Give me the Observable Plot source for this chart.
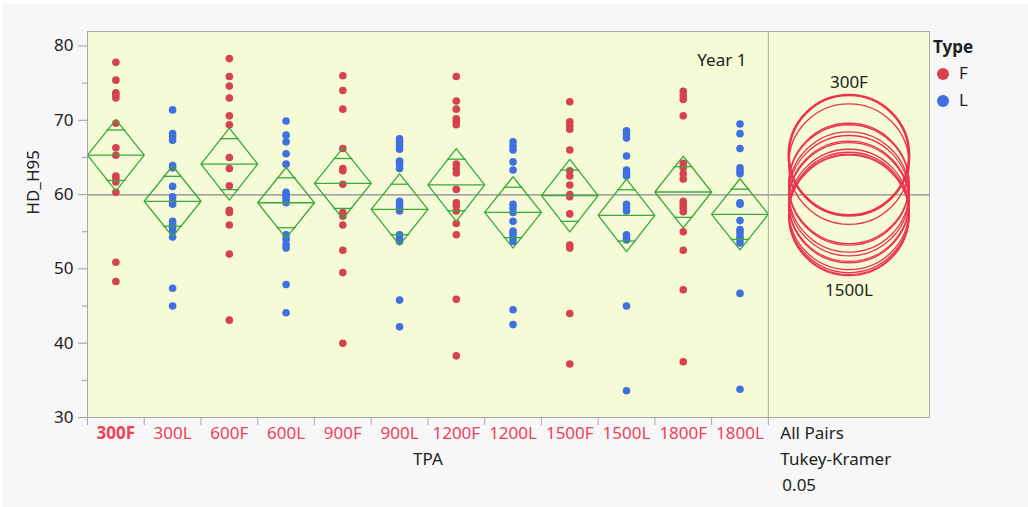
<!DOCTYPE html>
<html>
<head>
<meta charset="utf-8">
<script src="https://cdn.jsdelivr.net/npm/d3@7"></script>
<script src="https://cdn.jsdelivr.net/npm/@observablehq/plot@0.6"></script>
<style>
  body { margin: 0; background: #ffffff; font-family: "Noto Sans", sans-serif; }
  #panel { position: absolute; left: 2px; top: 4px; width: 1026px; height: 503px; background: #f7f7f7; }
  #chart { position: absolute; left: 0; top: 0; }
  #legend { position: absolute; left: 0; top: 0; color: #222; font-size: 17px; }
  #legend .title { position: absolute; left: 933px; top: 35px; font-weight: bold; white-space: nowrap; }
  #legend .item { position: absolute; left: 937px; white-space: nowrap; line-height: 20px; }
  #legend .sw { display: inline-block; width: 12px; height: 12px; border-radius: 50%; vertical-align: -1px; margin-right: 10px; }
</style>
</head>
<body>
<div id="panel"></div>
<div id="chart"></div>
<div id="legend"></div>
<script>
// TPA treatment groups (F / L type) and their HD_H95 observations
const categories = ["300F", "300L", "600F", "600L", "900F", "900L", "1200F", "1200L", "1500F", "1500L", "1800F", "1800L"];

const v300F  = [77.8, 75.4, 73.7, 73.4, 73.0, 69.6, 66.3, 65.3, 62.5, 62.1, 61.7, 60.3, 50.9, 48.3];
const v300L  = [71.4, 68.2, 67.8, 67.3, 63.9, 63.6, 61.1, 59.7, 59.1, 58.7, 56.4, 56.0, 55.5, 55.1, 54.3, 47.4, 45.0];
const v600F  = [78.3, 75.9, 74.6, 73.0, 70.6, 69.4, 65.0, 63.5, 61.2, 57.9, 57.6, 55.9, 52.0, 43.1];
const v600L  = [69.9, 68.0, 67.1, 65.5, 64.1, 60.3, 59.9, 59.6, 59.2, 58.9, 54.6, 54.0, 53.3, 52.8, 47.9, 44.1];
const v900F  = [76.0, 74.0, 71.5, 66.2, 63.5, 63.2, 61.4, 57.6, 57.1, 55.9, 52.5, 49.5, 40.0];
const v900L  = [67.5, 67.1, 66.6, 66.1, 64.5, 64.1, 63.5, 59.1, 58.7, 58.2, 57.8, 54.6, 54.1, 53.7, 45.8, 42.2];
const v1200F = [75.9, 72.6, 71.5, 70.2, 69.8, 69.4, 64.1, 63.5, 62.9, 60.7, 58.9, 58.5, 57.8, 56.1, 54.6, 45.9, 38.3];
const v1200L = [67.1, 66.5, 66.0, 64.4, 63.3, 58.7, 58.2, 57.6, 56.4, 55.1, 54.7, 54.2, 53.7, 44.5, 42.5];
const v1500F = [72.5, 69.8, 69.3, 68.8, 66.0, 63.2, 62.5, 61.3, 60.0, 59.7, 57.4, 53.2, 52.8, 44.0, 37.2];
const v1500L = [68.6, 68.1, 67.6, 65.2, 63.3, 62.8, 62.5, 58.7, 58.2, 57.8, 54.6, 54.2, 53.9, 45.0, 33.6];
const v1800F = [73.9, 73.3, 72.8, 70.6, 64.2, 63.6, 62.8, 62.1, 59.1, 58.6, 58.2, 57.7, 55.0, 52.5, 47.2, 37.5];
const v1800L = [69.5, 68.2, 66.2, 63.6, 63.2, 62.8, 58.9, 58.7, 56.5, 55.3, 54.9, 54.4, 54.0, 53.5, 46.7, 33.8];

// Group means and 95% confidence half-widths (means diamonds)
const groupMeans = [65.3, 59.1, 64.1, 58.9, 61.5, 58.0, 61.3, 57.6, 59.85, 57.2, 60.35, 57.35];
const ciHalf     = [4.8, 4.75, 4.85, 4.75, 4.75, 4.8, 4.9, 4.8, 4.88, 4.88, 4.83, 4.78];
const grandMean = 59.95;
// Tukey-Kramer comparison circle radius (HD_H95 units), alpha = 0.05
const circleRadius = 8.1;
const selectedGroup = "300F";

const yTicks = [30, 40, 50, 60, 70, 80];
const yMinorTicks = [35, 45, 55, 65, 75];

const typeColors = {F: "#d6424f", L: "#3f6fe0"};
const circleColor = "#ec3349";
const diamondColor = "#3aa83a";
const labelColor = "#f0405a";
const FS = 17;

// ---- tables built from the arrays above ----
const valueLists = [v300F, v300L, v600F, v600L, v900F, v900L, v1200F, v1200L, v1500F, v1500L, v1800F, v1800L];
const points = valueLists.flatMap((vals, i) =>
  vals.map(v => ({cat: categories[i], i, type: categories[i].slice(-1), value: v})));
const groups = categories.map((c, i) => ({cat: c, i, mean: groupMeans[i], ci: ciHalf[i]}));
const diamondPts = groups.flatMap(g => [
  {cat: g.cat, x: g.i, y: g.mean},
  {cat: g.cat, x: g.i + 0.5, y: g.mean + g.ci},
  {cat: g.cat, x: g.i + 1, y: g.mean},
  {cat: g.cat, x: g.i + 0.5, y: g.mean - g.ci},
  {cat: g.cat, x: g.i, y: g.mean}
]);
const k = 1 / Math.SQRT2;
const overlapMarks = groups.flatMap(g => [g.mean + g.ci * k, g.mean - g.ci * k].map(y => ({
  x1: g.i + 0.5 - 0.5 * (1 - k) - 0.02, x2: g.i + 0.5 + 0.5 * (1 - k) + 0.02, y
})));

const nCat = categories.length;
const circlePanel = 2.84;                 // width of comparison-circle panel, in group widths
const xEnd = nCat + circlePanel;
const circleX = nCat + circlePanel / 2;
const yDomain = [30, 81.95];

const topGroup = groups.reduce((a, b) => (b.mean > a.mean ? b : a));
const bottomGroup = groups.reduce((a, b) => (b.mean < a.mean ? b : a));

const chart = Plot.plot({
  width: 1028,
  height: 507,
  marginLeft: 87,
  marginRight: 99,
  marginTop: 31,
  marginBottom: 90,
  style: {background: "transparent", fontFamily: "'Noto Sans', sans-serif", fontSize: FS + "px", overflow: "visible"},
  x: {domain: [0, xEnd]},
  y: {domain: yDomain},
  r: {type: "linear", domain: [0, yDomain[1] - yDomain[0]], range: [0, 507 - 31 - 90]},
  color: {domain: ["F", "L"], range: [typeColors.F, typeColors.L]},
  marks: [
    Plot.frame({fill: "#f4fbd6", stroke: "none"}),
    // group separators below the frame
    Plot.axisX(d3.range(0, nCat + 1), {anchor: "bottom", tickSize: 8, tickFormat: () => "", stroke: "#a8a8a8", label: null}),
    // y axis
    Plot.axisY(yTicks, {anchor: "left", tickSize: 9, tickPadding: 5, stroke: "#a0a0a0", fill: "#222", fontSize: FS, label: null}),
    Plot.axisY(yMinorTicks, {anchor: "left", tickSize: 5, tickFormat: () => "", stroke: "#a0a0a0", label: null}),
    // grand mean
    Plot.ruleY([grandMean], {stroke: "#8a8a8a", strokeWidth: 1.3}),
    // observations
    Plot.dot(points, {x: d => d.i + 0.5, y: "value", fill: "type", r: 3.8}),
    // means diamonds
    Plot.line(diamondPts, {x: "x", y: "y", z: "cat", stroke: diamondColor, strokeWidth: 1.3}),
    Plot.link(groups, {x1: d => d.i, x2: d => d.i + 1, y1: "mean", y2: "mean", stroke: diamondColor, strokeWidth: 1.3}),
    Plot.link(overlapMarks, {x1: "x1", x2: "x2", y1: "y", y2: "y", stroke: diamondColor, strokeWidth: 1.3}),
    // comparison circles
    Plot.dot(groups.filter(g => g.cat !== selectedGroup), {x: () => circleX, y: "mean", r: () => circleRadius, stroke: circleColor, strokeWidth: 1.3, fill: "none", sort: null}),
    Plot.dot(groups.filter(g => g.cat === selectedGroup), {x: () => circleX, y: "mean", r: () => circleRadius, stroke: circleColor, strokeWidth: 2.6, fill: "none"}),
    Plot.text([topGroup], {x: () => circleX, y: d => d.mean + circleRadius, text: "cat", dy: -12, fill: "#222", fontSize: FS}),
    Plot.text([bottomGroup], {x: () => circleX, y: d => d.mean - circleRadius, text: "cat", dy: 15, fill: "#222", fontSize: FS}),
    // frame and panel divider
    Plot.frame({stroke: "#a8a8a8"}),
    Plot.ruleX([nCat], {stroke: "#a8a8a8"}),
    // group labels
    Plot.text(groups.filter(g => g.cat !== selectedGroup), {x: d => d.i + 0.5, y: () => yDomain[0], text: "cat", dy: 16, fill: labelColor, fontSize: FS}),
    Plot.text(groups.filter(g => g.cat === selectedGroup), {x: d => d.i + 0.5, y: () => yDomain[0], text: "cat", dy: 16, fill: labelColor, fontSize: FS, fontWeight: "bold"}),
    Plot.text(["TPA"], {x: () => nCat / 2, y: () => yDomain[0], dy: 42, fill: "#222", fontSize: FS}),
    Plot.text(["All Pairs"], {x: () => nCat, y: () => yDomain[0], dx: 12, dy: 16, textAnchor: "start", fill: "#222", fontSize: FS}),
    Plot.text(["Tukey-Kramer"], {x: () => nCat, y: () => yDomain[0], dx: 12, dy: 42, textAnchor: "start", fill: "#222", fontSize: FS}),
    Plot.text(["0.05"], {x: () => nCat, y: () => yDomain[0], dx: 14, dy: 68, textAnchor: "start", fill: "#222", fontSize: FS}),
    Plot.text(["Year 1"], {x: () => nCat, frameAnchor: "top", dx: -22, dy: 22, textAnchor: "end", fill: "#222", fontSize: FS}),
    Plot.text(["HD_H95"], {frameAnchor: "left", y: () => 57.3, dx: -54, rotate: -90, fill: "#222", fontSize: FS})
  ]
});
document.getElementById("chart").appendChild(chart);

// legend for Type
const legend = document.getElementById("legend");
legend.innerHTML = `<div class="title">Type</div>` +
  Object.entries(typeColors).map(([t, c], j) =>
    `<div class="item" style="top:${63 + j * 27}px"><span class="sw" style="background:${c}"></span>${t}</div>`).join("");
</script>
</body>
</html>
